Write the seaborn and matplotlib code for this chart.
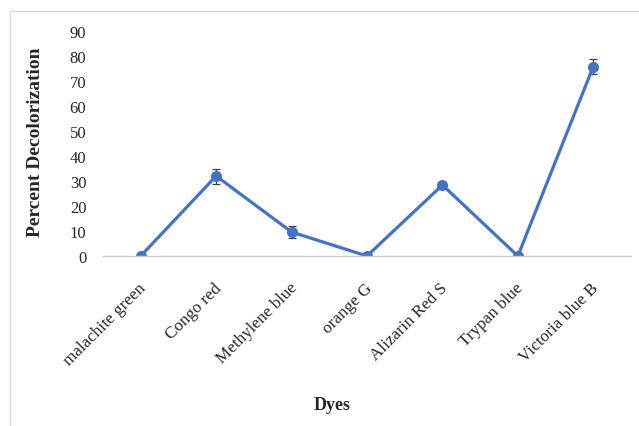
import numpy as np
import pandas as pd
import matplotlib.pyplot as plt
import seaborn as sns
from matplotlib.patches import Rectangle
from matplotlib.transforms import ScaledTranslation

sns.set_theme(style="white")
plt.rcParams['font.family'] = ['Liberation Serif', 'DejaVu Serif']

dyes = ["malachite green", "Congo red", "Methylene blue", "orange G",
        "Alizarin Red S", "Trypan blue", "Victoria blue B"]
decolorization = [0, 32, 9.6, 0, 28.4, 0, 75.8]
errors = [0, 3, 2.5, 0, 1, 0, 3]

data = pd.DataFrame({"pos": np.arange(len(dyes)), "dye": dyes,
                     "value": decolorization, "err": errors})

blue = "#4472C4"
fig = plt.figure(figsize=(6.39, 4.27), dpi=100)
ax = fig.add_axes([103/639, 1 - 257/427, 528/639, 225/427])

sns.lineplot(data=data, x="pos", y="value", ax=ax, color=blue, linewidth=2.3,
             marker="o", markersize=8, markeredgewidth=0)
ax.errorbar(data["pos"], data["value"], yerr=data["err"], fmt="none",
            ecolor="#404040", elinewidth=0.9, capsize=3, capthick=0.9, zorder=1)

ax.set_xlim(-0.5, len(dyes) - 0.5)
ax.set_ylim(0, 90)
ax.set_yticks(range(0, 91, 10))
ax.set_xticks(data["pos"])
ax.set_xticklabels(dyes, rotation=45, ha="right", va="center",
                   rotation_mode="anchor", fontsize=12.3)
ax.tick_params(axis="y", length=0, pad=12, labelsize=12)
ax.tick_params(axis="x", length=0, pad=21)
shift = ScaledTranslation(3/100, 0, fig.dpi_scale_trans)
for lbl in ax.get_xticklabels():
    lbl.set_transform(lbl.get_transform() + shift)

for s in ["top", "right", "left"]:
    ax.spines[s].set_visible(False)
ax.spines["bottom"].set_color("#d0d0d0")
ax.spines["bottom"].set_linewidth(1)

ax.set_ylabel("Percent Decolorization", fontweight="bold", fontsize=14)
ax.yaxis.set_label_coords((44 - 103) / 528, 0.51)
ax.set_xlabel("Dyes", fontweight="bold", fontsize=13)
ax.xaxis.set_label_coords((332 - 103) / 528, (257 - 397) / 225)

fig.patches.append(Rectangle((10/639, -0.05), 1.1, 1 - 12/427 + 0.05,
                             transform=fig.transFigure, fill=False,
                             edgecolor="#d9d9d9", linewidth=1))

fig.savefig("out.png", dpi=100)
